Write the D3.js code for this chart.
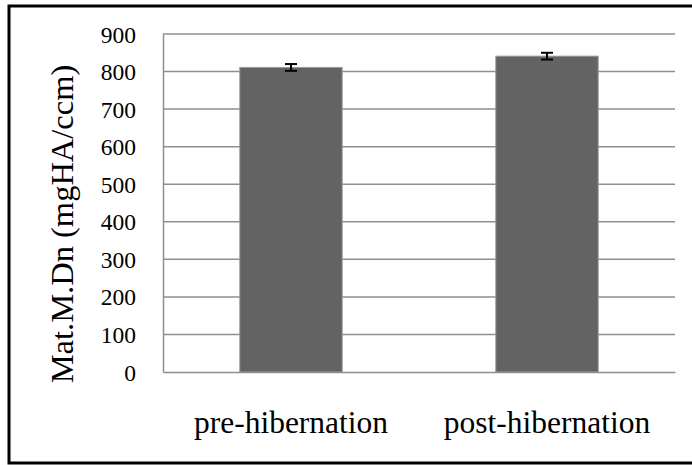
<!DOCTYPE html>
<html>
<head>
<meta charset="utf-8">
<script src="https://cdn.jsdelivr.net/npm/d3@7"></script>
<style>
  html, body { margin: 0; padding: 0; background: #fff; }
  svg { display: block; overflow: hidden; }
  text { font-family: "Liberation Serif", "Times New Roman", serif; fill: #000; }
</style>
</head>
<body>
<svg id="chart" width="692" height="465"></svg>
<script>
const categories = ["pre-hibernation", "post-hibernation"];
const values = [811, 841];
const errors = [9, 9];
const yTicks = [0, 100, 200, 300, 400, 500, 600, 700, 800, 900];
const yTitle = "Mat.M.Dn (mgHA/ccm)";

(function () {
const svg = d3.select("#chart");
const mLeft = 163, mRight = 675, mTop = 34, mBottom = 372;
const serif = '"Liberation Serif", "Times New Roman", serif';

// outer frame
svg.append("rect").attr("x", 9).attr("y", 6).attr("width", 720).attr("height", 457)
  .attr("fill", "none").attr("stroke", "#000").attr("stroke-width", 3);

const x = d3.scaleBand().domain(categories).range([mLeft, mRight]).paddingInner(0.6).paddingOuter(0.3);
const y = d3.scaleLinear().domain([0, 900]).range([mBottom, mTop]);

// gridlines
svg.append("g").selectAll("line").data(yTicks.filter(d => d > 0)).join("line")
  .attr("x1", mLeft).attr("x2", mRight)
  .attr("y1", d => y(d)).attr("y2", d => y(d))
  .attr("stroke", "#8f8f8f").attr("stroke-width", 1.5);

// y axis
const yAxis = d3.axisLeft(y).tickValues(yTicks).tickSize(0).tickPadding(27).tickFormat(d3.format("d"));
const gy = svg.append("g").attr("transform", `translate(${mLeft},0)`).call(yAxis)
  .attr("font-family", serif).attr("font-size", 23.5);
gy.select(".domain").attr("stroke", "#8f8f8f").attr("stroke-width", 1.5);
gy.selectAll("text").attr("fill", "#000").attr("dy", "0.34em");

// bars
svg.append("g").selectAll("rect").data(values).join("rect")
  .attr("x", (d, i) => x(categories[i]))
  .attr("width", x.bandwidth())
  .attr("y", d => y(d))
  .attr("height", d => y(0) - y(d))
  .attr("fill", "#636363").attr("stroke", "#9a9a9a").attr("stroke-width", 1);

// x axis
const xAxis = d3.axisBottom(x).tickSize(0).tickPadding(39);
const gx = svg.append("g").attr("transform", `translate(0,${mBottom})`).call(xAxis)
  .attr("font-family", serif).attr("font-size", 31.5);
gx.select(".domain").attr("stroke", "#8f8f8f").attr("stroke-width", 1.5);
gx.selectAll("text").attr("fill", "#000").attr("dy", "0.71em");

// error bars
const eg = svg.append("g").attr("stroke", "#000").attr("stroke-width", 2);
values.forEach((v, i) => {
  const cx = x(categories[i]) + x.bandwidth() / 2;
  eg.append("line").attr("x1", cx).attr("x2", cx).attr("y1", y(v + errors[i])).attr("y2", y(v - errors[i]));
  eg.append("line").attr("x1", cx - 6).attr("x2", cx + 6).attr("y1", y(v + errors[i])).attr("y2", y(v + errors[i]));
  eg.append("line").attr("x1", cx - 6).attr("x2", cx + 6).attr("y1", y(v - errors[i])).attr("y2", y(v - errors[i]));
});

// y title
svg.append("text")
  .attr("transform", `translate(73,${(mTop + mBottom) / 2 + 21}) rotate(-90)`)
  .attr("text-anchor", "middle")
  .style("font-size", "32.5px")
  .text(yTitle);
})();
</script>
</body>
</html>
